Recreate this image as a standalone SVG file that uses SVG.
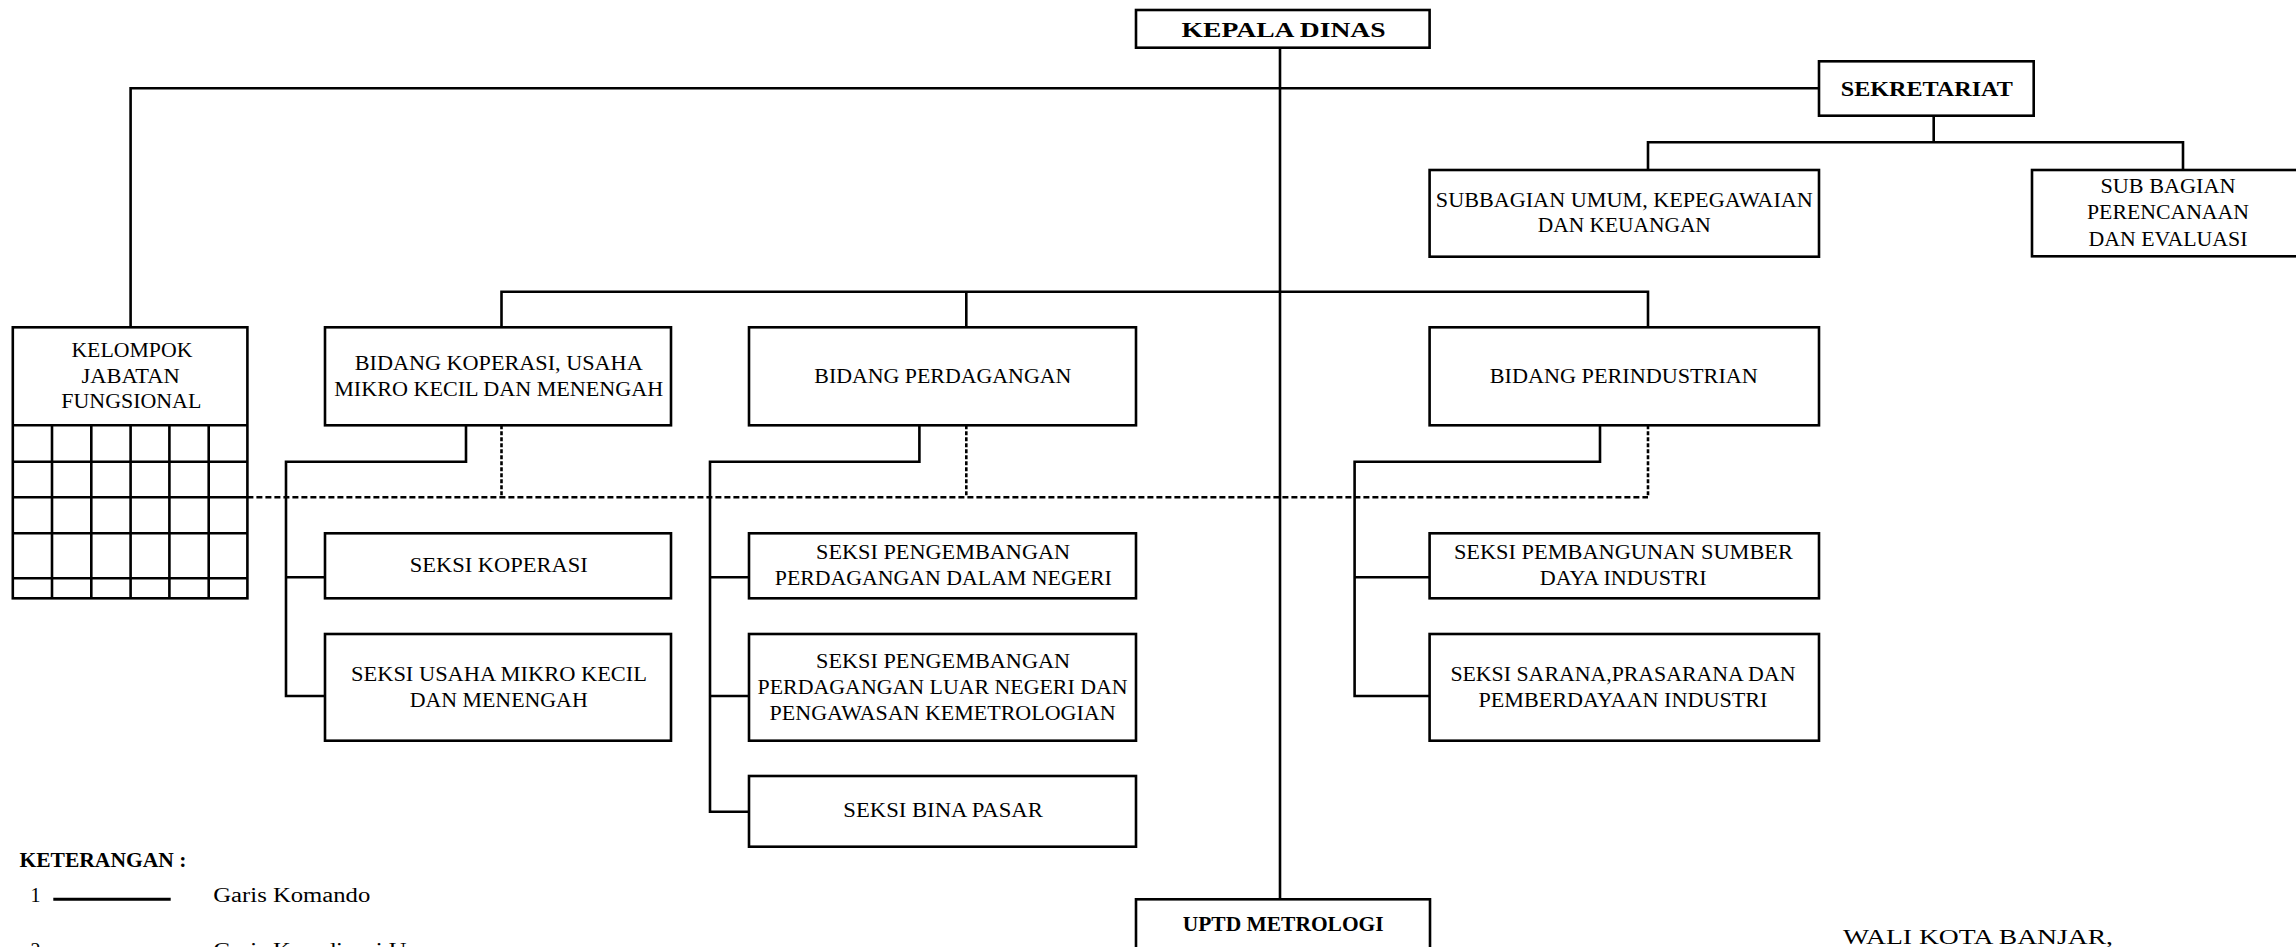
<svg xmlns="http://www.w3.org/2000/svg" width="2296" height="947" viewBox="0 0 2296 947">
<style>
.bg{fill:#fff}
.box{fill:#fff;stroke:#000;stroke-width:2.6}
.ln{fill:none;stroke:#000;stroke-width:2.6}
.dh{fill:none;stroke:#000;stroke-width:2.6;stroke-dasharray:6 3}
.dv{fill:none;stroke:#000;stroke-width:2.6;stroke-dasharray:4 2}
text{font-family:"Liberation Serif","Times New Roman",serif;font-size:20px;fill:#000;text-anchor:middle}
.b{font-weight:bold;font-size:22px}
.l{text-anchor:start}
</style>
<rect class="bg" x="0" y="0" width="2296" height="947"/>
<g id="connectors">
<path class="ln" d="M1280 47.7 V899.3"/>
<path class="ln" d="M130.6 327.3 V88.3 H1819"/>
<path class="ln" d="M1933.7 115.7 V142.3 M1648 170 V142.3 H2183 V170"/>
<path class="ln" d="M501.5 327.3 V291.7 H1648 V327.3 M966.3 291.7 V327.3"/>
<path class="ln" d="M466 425.3 V461.7 H286 V696 H325 M286 577.3 H325"/>
<path class="ln" d="M919.4 425.3 V461.7 H710 V811.7 H749 M710 577.3 H749 M710 696 H749"/>
<path class="ln" d="M1600 425.3 V461.7 H1354.6 V696 H1429.6 M1354.6 577.3 H1429.6"/>
<path class="dh" d="M247.4 497.3 H1648"/>
<path class="dv" d="M501.5 425.3 V497.3 M966.3 425.3 V497.3 M1648 425.3 V497.3"/>
</g>
<g id="kepala-dinas">
<rect class="box" x="1136" y="10" width="293.6" height="37.7"/>
<text class="b" x="1283.6" y="36.7" textLength="204" lengthAdjust="spacingAndGlyphs">KEPALA DINAS</text>
</g>
<g id="sekretariat">
<rect class="box" x="1819" y="61.3" width="214.7" height="54.4"/>
<text class="b" x="1926.8" y="96" textLength="172" lengthAdjust="spacingAndGlyphs">SEKRETARIAT</text>
</g>
<g id="subbagian-umum">
<rect class="box" x="1429.6" y="170" width="389.4" height="86.7"/>
<text x="1624.3" y="206.7" textLength="377" lengthAdjust="spacingAndGlyphs">SUBBAGIAN UMUM, KEPEGAWAIAN</text>
<text x="1624.3" y="232.3" textLength="173" lengthAdjust="spacingAndGlyphs">DAN KEUANGAN</text>
</g>
<g id="subbagian-perencanaan">
<rect class="box" x="2032" y="170" width="272" height="86.3"/>
<text x="2168" y="193.3" textLength="135" lengthAdjust="spacingAndGlyphs">SUB BAGIAN</text>
<text x="2168" y="219" textLength="162" lengthAdjust="spacingAndGlyphs">PERENCANAAN</text>
<text x="2168" y="245.7" textLength="159" lengthAdjust="spacingAndGlyphs">DAN EVALUASI</text>
</g>
<g id="kelompok-jabatan-fungsional">
<rect class="box" x="12.8" y="327.3" width="234.6" height="271"/>
<path class="ln" d="M12.8 425.3 H247.4 M12.8 461.7 H247.4 M12.8 497.3 H247.4 M12.8 533.3 H247.4 M12.8 578.3 H247.4 M52 425.3 V598.3 M91.3 425.3 V598.3 M130.6 425.3 V598.3 M169.4 425.3 V598.3 M208.7 425.3 V598.3"/>
<text x="131.9" y="357.3" textLength="121" lengthAdjust="spacingAndGlyphs">KELOMPOK</text>
<text x="130.6" y="382.7" textLength="98" lengthAdjust="spacingAndGlyphs">JABATAN</text>
<text x="131.3" y="408.3" textLength="140" lengthAdjust="spacingAndGlyphs">FUNGSIONAL</text>
</g>
<g id="bidang-koperasi">
<rect class="box" x="325" y="327.3" width="346" height="98"/>
<text x="498.7" y="370" textLength="288" lengthAdjust="spacingAndGlyphs">BIDANG KOPERASI, USAHA</text>
<text x="498.7" y="396" textLength="329" lengthAdjust="spacingAndGlyphs">MIKRO KECIL DAN MENENGAH</text>
</g>
<g id="bidang-perdagangan">
<rect class="box" x="749" y="327.3" width="387" height="98"/>
<text x="942.8" y="382.7" textLength="257" lengthAdjust="spacingAndGlyphs">BIDANG PERDAGANGAN</text>
</g>
<g id="bidang-perindustrian">
<rect class="box" x="1429.6" y="327.3" width="389.4" height="98"/>
<text x="1623.8" y="382.7" textLength="268" lengthAdjust="spacingAndGlyphs">BIDANG PERINDUSTRIAN</text>
</g>
<g id="seksi-koperasi">
<rect class="box" x="325" y="533.3" width="346" height="65"/>
<text x="498.7" y="571.7" textLength="178" lengthAdjust="spacingAndGlyphs">SEKSI KOPERASI</text>
</g>
<g id="seksi-usaha-mikro">
<rect class="box" x="325" y="634" width="346" height="106.7"/>
<text x="499" y="681" textLength="296" lengthAdjust="spacingAndGlyphs">SEKSI USAHA MIKRO KECIL</text>
<text x="498.7" y="706.7" textLength="178" lengthAdjust="spacingAndGlyphs">DAN MENENGAH</text>
</g>
<g id="seksi-pengembangan-dn">
<rect class="box" x="749" y="533.3" width="387" height="65"/>
<text x="943.1" y="559" textLength="254" lengthAdjust="spacingAndGlyphs">SEKSI PENGEMBANGAN</text>
<text x="943.3" y="585" textLength="337" lengthAdjust="spacingAndGlyphs">PERDAGANGAN DALAM NEGERI</text>
</g>
<g id="seksi-pengembangan-ln">
<rect class="box" x="749" y="634" width="387" height="106.7"/>
<text x="943.1" y="668.3" textLength="254" lengthAdjust="spacingAndGlyphs">SEKSI PENGEMBANGAN</text>
<text x="942.6" y="694" textLength="370" lengthAdjust="spacingAndGlyphs">PERDAGANGAN LUAR NEGERI DAN</text>
<text x="942.6" y="720" textLength="346" lengthAdjust="spacingAndGlyphs">PENGAWASAN KEMETROLOGIAN</text>
</g>
<g id="seksi-bina-pasar">
<rect class="box" x="749" y="776" width="387" height="70.7"/>
<text x="943.1" y="817.3" textLength="199.5" lengthAdjust="spacingAndGlyphs">SEKSI BINA PASAR</text>
</g>
<g id="seksi-pembangunan">
<rect class="box" x="1429.6" y="533.3" width="389.4" height="65"/>
<text x="1623.4" y="559" textLength="339" lengthAdjust="spacingAndGlyphs">SEKSI PEMBANGUNAN SUMBER</text>
<text x="1623.2" y="585" textLength="167" lengthAdjust="spacingAndGlyphs">DAYA INDUSTRI</text>
</g>
<g id="seksi-sarana">
<rect class="box" x="1429.6" y="634" width="389.4" height="106.7"/>
<text x="1622.9" y="681" textLength="345" lengthAdjust="spacingAndGlyphs">SEKSI SARANA,PRASARANA DAN</text>
<text x="1622.9" y="706.7" textLength="289" lengthAdjust="spacingAndGlyphs">PEMBERDAYAAN INDUSTRI</text>
</g>
<g id="uptd-metrologi">
<rect class="box" x="1136" y="899.3" width="294" height="70"/>
<text class="b" x="1283.2" y="931" font-size="21" textLength="201" lengthAdjust="spacingAndGlyphs">UPTD METROLOGI</text>
</g>
<g id="legend">
<text class="b l" x="19.4" y="866.7" font-size="20" textLength="167" lengthAdjust="spacingAndGlyphs">KETERANGAN :</text>
<text class="l" x="30.6" y="901.7">1</text>
<path d="M53.3 899.3 H170.7" stroke="#000" stroke-width="3" fill="none"/>
<text class="l" x="213.3" y="901.7" textLength="157" lengthAdjust="spacingAndGlyphs">Garis Komando</text>
<text class="l" x="30.6" y="957">2</text>
<text class="l" x="213.3" y="957" textLength="244" lengthAdjust="spacingAndGlyphs">Garis Koordinasi Umum</text>
</g>
<g id="signature">
<text class="l" x="1843" y="944" font-size="26" textLength="270" lengthAdjust="spacingAndGlyphs">WALI KOTA BANJAR,</text>
</g>
</svg>
